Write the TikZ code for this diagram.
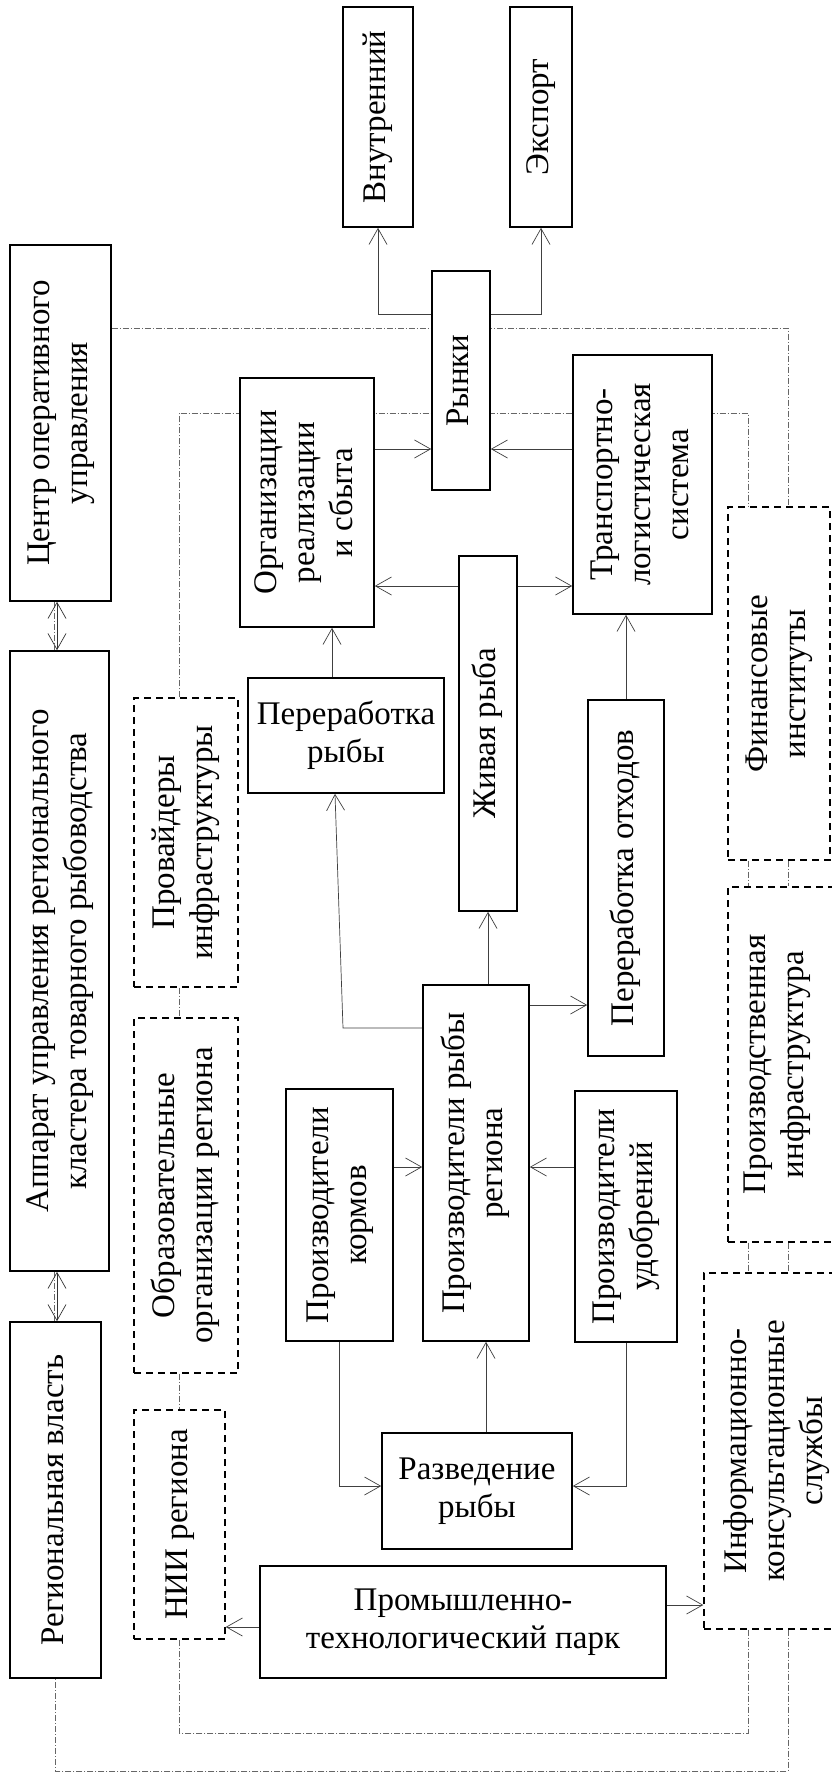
\documentclass[tikz,border=0pt]{standalone}
\usepackage{fontspec}
\usepackage{graphicx}
\setmainfont{Liberation Serif}
\usetikzlibrary{arrows.meta}
\newcommand{\vtxt}[1]{\rotatebox{90}{\begin{tabular}{@{}c@{}}#1\end{tabular}}}
\pgfdeclarelayer{back}
\pgfdeclarelayer{bg}
\pgfsetlayers{back,bg,main}
\begin{document}
\begin{tikzpicture}[x=1pt,y=-1pt,
  font=\fontsize{33}{38}\selectfont,
  box/.style={draw, line width=1.6pt, fill=white, inner sep=0pt},
  dbox/.style={draw, line width=1.4pt, dash pattern=on 7pt off 5pt, fill=white, inner sep=0pt},
  conn/.style={draw=black!75, line width=0.7pt, -{Straight Barb[length=16pt,width=18pt,line width=0.7pt]}},
  dconn/.style={draw=black!80, line width=0.7pt, {Straight Barb[length=16pt,width=18pt,line width=0.7pt]}-{Straight Barb[length=16pt,width=18pt,line width=0.7pt]}},
  dd/.style={draw=black!60, line width=0.8pt, dash pattern=on 6pt off 2pt on 1pt off 2pt}
]
\useasboundingbox (0,0) rectangle (832,1774);
\clip (0,0) rectangle (832,1774);
\begin{pgfonlayer}{back}
\fill[white] (0,0) rectangle (832,1774);
\end{pgfonlayer}

% nodes
\node[box, minimum width=70pt, minimum height=220pt] (vnutr) at (378,117) {\vtxt{Внутренний}};
\node[box, minimum width=62pt, minimum height=220pt] (export) at (541,117) {\vtxt{Экспорт}};
\node[box, minimum width=101pt, minimum height=356pt] (center) at (60.5,423) {\vtxt{Центр оперативного\\управления}};
\node[box, minimum width=58pt, minimum height=219pt] (rynki) at (461,380.5) {\vtxt{Рынки}};
\node[box, minimum width=134pt, minimum height=249pt] (org) at (307,502.5) {\vtxt{Организации\\реализации\\и сбыта}};
\node[box, minimum width=139pt, minimum height=259pt] (trans) at (642.5,484.5) {\vtxt{Транспортно-\\логистическая\\система}};
\node[box, minimum width=99pt, minimum height=620pt] (apparat) at (59.5,961) {\vtxt{Аппарат управления регионального\\кластера товарного рыбоводства}};
\node[dbox, minimum width=104pt, minimum height=289pt] (prov) at (186,842.5) {\vtxt{Провайдеры\\инфраструктуры}};
\node[box, minimum width=196pt, minimum height=115pt, align=center] (perer) at (346,735.5) {Переработка\\рыбы};
\node[box, minimum width=58pt, minimum height=355pt] (zhivaya) at (488,733.5) {\vtxt{Живая рыба}};
\node[box, minimum width=76pt, minimum height=356pt] (otkhod) at (626,878) {\vtxt{Переработка отходов}};
\node[dbox, minimum width=102pt, minimum height=353pt] (fin) at (779,683.5) {\vtxt{Финансовые\\институты}};
\node[dbox, minimum width=104pt, minimum height=355pt] (obraz) at (186,1195.5) {\vtxt{Образовательные\\организации региона}};
\node[box, minimum width=107pt, minimum height=252pt] (kormov) at (339.5,1215) {\vtxt{Производители\\кормов}};
\node[box, minimum width=106pt, minimum height=356pt] (proizv) at (476,1163) {\vtxt{Производители рыбы\\региона}};
\node[box, minimum width=102pt, minimum height=251pt] (udobr) at (626,1216.5) {\vtxt{Производители\\удобрений}};
\node[dbox, minimum width=122pt, minimum height=355pt] (prinfra) at (789,1064.5) {};
\node (prinfratxt) at (777,1064.5) {\vtxt{Производственная\\инфраструктура}};
\node[dbox, minimum width=146pt, minimum height=356pt] (info) at (777,1451) {\vtxt{Информационно-\\консультационные\\службы}};
\node[box, minimum width=91pt, minimum height=356pt] (regvl) at (55.5,1500) {\vtxt{Региональная власть}};
\node[dbox, minimum width=91pt, minimum height=229pt] (nii) at (179.5,1524.5) {\vtxt{НИИ региона}};
\node[box, minimum width=190pt, minimum height=116pt, align=center] (razv) at (477,1491) {Разведение\\рыбы};
\node[box, minimum width=406pt, minimum height=112pt, align=center] (prom) at (463,1622) {Промышленно-\\технологический парк};

% helper coordinates
\coordinate (y314) at (0,314);
\coordinate (y328) at (0,328);
\coordinate (y413) at (0,413);
\coordinate (y449) at (0,449);
\coordinate (y586) at (0,586);
\coordinate (y1005) at (0,1005);
\coordinate (y1028) at (0,1028);
\coordinate (y1167) at (0,1167);
\coordinate (y1486) at (0,1486);
\coordinate (y1605) at (0,1605);
\coordinate (y1627) at (0,1627);
\coordinate (y1733) at (0,1733);
\coordinate (y1771) at (0,1771);
\coordinate (x54) at (54,0);
\coordinate (x57) at (57,0);
\coordinate (x179) at (179,0);
\coordinate (x332) at (332,0);
\coordinate (x335) at (335,0);
\coordinate (x486) at (486,0);
\coordinate (x748) at (748,0);
\coordinate (x788) at (788,0);
\coordinate (bend1) at (343,1028);

% solid connectors
\draw[conn] (rynki.west |- y314) -| (vnutr.south);
\draw[conn] (rynki.east |- y314) -| (export.south);
\draw[conn] (org.east |- y449) -- (rynki.west |- y449);
\draw[conn] (trans.west |- y449) -- (rynki.east |- y449);
\draw[conn] (zhivaya.west |- y586) -- (org.east |- y586);
\draw[conn] (zhivaya.east |- y586) -- (trans.west |- y586);
\draw[conn] (perer.north -| x332) -- (org.south -| x332);
\draw[conn] (otkhod.north) -- (otkhod.north |- trans.south);
\draw[conn] (zhivaya.south |- proizv.north) -- (zhivaya.south);
\draw[conn] (proizv.east |- y1005) -- (otkhod.west |- y1005);
\draw[conn] (proizv.west |- y1028) -- (bend1) -- (perer.south -| x335);
\draw[conn] (kormov.east |- y1167) -- (proizv.west |- y1167);
\draw[conn] (udobr.west |- y1167) -- (proizv.east |- y1167);
\draw[conn] (razv.north -| x486) -- (proizv.south -| x486);
\draw[conn] (kormov.south) |- (razv.west |- y1486);
\draw[conn] (udobr.south) |- (razv.east |- y1486);
\draw[conn] (prom.east |- y1605) -- (info.west |- y1605);
\draw[conn] (prom.west |- y1627) -- (nii.east |- y1627);
\draw[dconn] (center.south -| x57) -- (apparat.north -| x57);
\draw[dconn] (apparat.south -| x57) -- (regvl.north -| x57);

% dash-dot links on background
\begin{pgfonlayer}{bg}
\draw[dd] (center.east |- y328) -- (x788 |- y328) -- (fin.north -| x788);
\draw[dd] (fin.south -| x788) -- (prinfra.north -| x788);
\draw[dd] (prinfra.south -| x788) -- (info.north -| x788);
\draw[dd] (info.south -| x788) -- (x788 |- y1771) -- (regvl.south |- y1771) -- (regvl.south);
\draw[dd] (prov.north -| x179) -- (x179 |- y413) -- (x748 |- y413) -- (fin.north -| x748);
\draw[dd] (fin.south -| x748) -- (prinfra.north -| x748);
\draw[dd] (prinfra.south -| x748) -- (info.north -| x748);
\draw[dd] (info.south -| x748) -- (x748 |- y1733) -- (x179 |- y1733) -- (nii.south -| x179);
\draw[dd] (prov.south -| x179) -- (obraz.north -| x179);
\draw[dd] (obraz.south -| x179) -- (nii.north -| x179);
\draw[dd] (center.south -| x54) -- (apparat.north -| x54);
\draw[dd] (apparat.south -| x54) -- (regvl.north -| x54);
\end{pgfonlayer}
\end{tikzpicture}
\end{document}
